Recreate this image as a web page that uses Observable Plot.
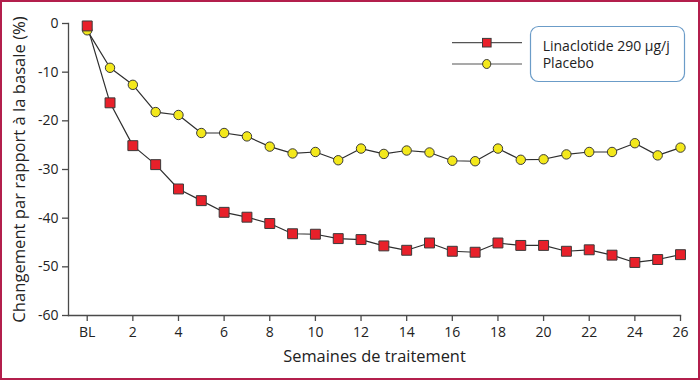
<!DOCTYPE html>
<html>
<head>
<meta charset="utf-8">
<script src="https://cdn.jsdelivr.net/npm/d3@7"></script>
<script src="https://cdn.jsdelivr.net/npm/@observablehq/plot@0.6"></script>
<style>
  html, body { margin: 0; padding: 0; background: #fff; }
  #wrap { position: relative; width: 700px; height: 380px; overflow: hidden; background: #fff; }
  #wrap svg { display: block; }
  #legend { position: absolute; left: 0; top: 0; pointer-events: none; }
  #border { position: absolute; left: 0; top: 0; width: 700px; height: 380px; box-sizing: border-box; border: 2px solid #b31f4c; pointer-events: none; }
</style>
</head>
<body>
<div id="wrap"></div>
<script>
// ---- data ----
const weeks = [0,1,2,3,4,5,6,7,8,9,10,11,12,13,14,15,16,17,18,19,20,21,22,23,24,25,26];
const linaclotide = [-0.5,-16.3,-25.1,-29.0,-34.0,-36.4,-38.8,-39.8,-41.1,-43.2,-43.3,-44.2,-44.4,-45.7,-46.6,-45.1,-46.8,-47.0,-45.1,-45.6,-45.6,-46.8,-46.5,-47.6,-49.1,-48.5,-47.5];
const placebo = [-1.4,-9.1,-12.6,-18.2,-18.8,-22.5,-22.5,-23.2,-25.3,-26.7,-26.4,-28.1,-25.7,-26.8,-26.1,-26.5,-28.2,-28.3,-25.7,-28.0,-27.9,-26.9,-26.4,-26.4,-24.6,-27.1,-25.5];
const seriesNames = ["Linaclotide 290 μg/j", "Placebo"];
const xTicks = [0,2,4,6,8,10,12,14,16,18,20,22,24,26];
const xTickLabels = ["BL","2","4","6","8","10","12","14","16","18","20","22","24","26"];
const yTicks = [0,-10,-20,-30,-40,-50,-60];
const xLabel = "Semaines de traitement";
const yLabel = "Changement par rapport à la basale (%)";

// ---- styles ----
const FONT = "'Open Sans', 'Noto Sans', sans-serif";
const RED = "#e8202a";
const YEL = "#f3e81b";
const INK = "#2e2e2e";
const AXIS = "#4a4a4a";

const lin = weeks.map((w, i) => ({week: w, value: linaclotide[i]}));
const pla = weeks.map((w, i) => ({week: w, value: placebo[i]}));

const chart = Plot.plot({
  width: 700,
  height: 380,
  marginLeft: 68,
  marginRight: 20,
  marginTop: 23,
  marginBottom: 65,
  style: {fontFamily: FONT, fontSize: "14px", color: "#222", background: "transparent"},
  x: {domain: [-0.82, 26]},
  y: {domain: [-60, 0]},
  marks: [
    Plot.axisX({ticks: xTicks, tickFormat: d => xTickLabels[xTicks.indexOf(d)], tickSize: 6, tickPadding: 6, label: null, stroke: AXIS, strokeWidth: 1.3, fontSize: 14}),
    Plot.axisY({ticks: yTicks, tickFormat: d => String(d), tickSize: 6, tickPadding: 4, label: null, stroke: AXIS, strokeWidth: 1.3, fontSize: 14}),
    Plot.frame({anchor: "left", stroke: AXIS, strokeWidth: 1.3}),
    Plot.frame({anchor: "bottom", stroke: AXIS, strokeWidth: 1.3}),
    Plot.text([yLabel], {frameAnchor: "left", textAnchor: "middle", lineAnchor: "middle", rotate: -90, dx: -49, fontSize: 16.6, fill: "#222"}),
    Plot.text([xLabel], {frameAnchor: "bottom", textAnchor: "middle", lineAnchor: "middle", dy: 41, fontSize: 16.4, fill: "#222"}),
    Plot.line(pla, {x: "week", y: "value", stroke: INK, strokeWidth: 1.2}),
    Plot.line(lin, {x: "week", y: "value", stroke: INK, strokeWidth: 1.2}),
    Plot.dot(pla, {x: "week", y: "value", symbol: "circle", r: 4.7, fill: YEL, stroke: "#3a3a3a", strokeWidth: 1}),
    Plot.dot(lin, {x: "week", y: "value", symbol: "square", r: 5.6, fill: RED, stroke: "#3a3a3a", strokeWidth: 1})
  ]
});
const wrap = document.getElementById("wrap");
wrap.appendChild(chart);

// ---- legend overlay ----
const lg = d3.create("svg").attr("id", "legend").attr("width", 700).attr("height", 380);
lg.append("rect").attr("x", 530.5).attr("y", 26.5).attr("width", 154).attr("height", 55)
  .attr("rx", 8).attr("fill", "#fff").attr("stroke", "#6b9cc8").attr("stroke-width", 1.2);
const rows = [
  {name: seriesNames[0], y: 42.7, sym: "square", fill: RED, base: 50.5},
  {name: seriesNames[1], y: 64, sym: "circle", fill: YEL, base: 68}
];
for (const r of rows) {
  lg.append("line").attr("x1", 452).attr("x2", 522).attr("y1", r.y).attr("y2", r.y)
    .attr("stroke", "#555").attr("stroke-width", 1.2);
  if (r.sym === "square") {
    lg.append("rect").attr("x", 482.5).attr("y", r.y - 4.3).attr("width", 8.6).attr("height", 8.6)
      .attr("fill", r.fill).attr("stroke", "#3a3a3a").attr("stroke-width", 1);
  } else {
    lg.append("ellipse").attr("cx", 486.7).attr("cy", r.y).attr("rx", 4.1).attr("ry", 4.5)
      .attr("fill", r.fill).attr("stroke", "#3a3a3a").attr("stroke-width", 1);
  }
  lg.append("text").attr("x", 542.7).attr("y", r.base).text(r.name)
    .attr("font-family", FONT).attr("font-size", 14).attr("fill", "#222");
}
wrap.appendChild(lg.node());
const border = document.createElement("div");
border.id = "border";
wrap.appendChild(border);
</script>
</body>
</html>
